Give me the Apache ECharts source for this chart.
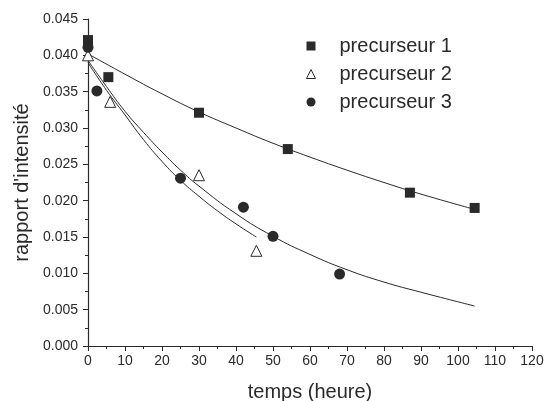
<!DOCTYPE html>
<html>
<head>
<meta charset="utf-8">
<script src="https://cdn.jsdelivr.net/npm/echarts@6/dist/echarts.min.js"></script>
<style>
  html, body { margin: 0; padding: 0; background: #fff; }
  #chart { width: 546px; height: 401px; }
</style>
</head>
<body>
<div id="chart"></div>
<script>
// measured points
const prec1 = [[0, 0.0421], [5.5, 0.0370], [30, 0.0321], [54, 0.0271], [87, 0.0211], [104.5, 0.0190]]
const prec2 = [[0, 0.0400], [6, 0.0336], [30, 0.0235], [45.5, 0.0131]]
const prec3 = [[0, 0.0411], [2.4, 0.0351], [25, 0.0231], [42, 0.0191], [50, 0.0151], [68, 0.0099]]

// fitted curves
const fit1 = [[0, 0.0402], [10, 0.0374], [20, 0.0347], [30, 0.0322], [40, 0.0300], [50, 0.0279],
  [60, 0.0260], [70, 0.0242], [80, 0.0225], [90, 0.0209], [104.5, 0.0188]]
const fit2 = [[0, 0.0390], [5, 0.0352], [10, 0.0318], [15, 0.0284], [20, 0.0254], [25, 0.0228],
  [30, 0.0206], [35, 0.0186], [40, 0.0168], [45.5, 0.0150]]
const fit3 = [[0, 0.0393], [5, 0.0357], [10, 0.0323], [15, 0.0294], [20, 0.0267], [25, 0.0242],
  [30, 0.0220], [40, 0.0182], [50, 0.0151], [60, 0.0126], [70, 0.0105], [80, 0.0088],
  [90, 0.0074], [104.5, 0.0055]]

const ink = '#2a2a2a'
const font = 'Liberation Sans'

const chart = echarts.init(document.getElementById('chart'))

function fitLine(name, data) {
  return {
    name,
    type: 'line',
    data,
    smooth: true,
    showSymbol: false,
    lineStyle: { color: ink, width: 1 },
    silent: true,
    z: 1
  }
}

chart.setOption({
  animation: false,
  backgroundColor: '#fff',
  textStyle: { fontFamily: font },
  grid: { left: 88, right: 14, top: 19, bottom: 55, outerBoundsMode: 'none', containLabel: false },
  legend: {
    orient: 'vertical',
    left: 301,
    top: 31,
    itemGap: 8,
    itemWidth: 9,
    itemHeight: 9,
    textStyle: { fontSize: 20, color: ink, fontFamily: font, padding: [0, 0, 0, 19] },
    data: [
      { name: 'precurseur 1', icon: 'rect', itemStyle: { color: ink } },
      { name: 'precurseur 2', icon: 'triangle', itemStyle: { color: '#fff', borderColor: ink, borderWidth: 1 } },
      { name: 'precurseur 3', icon: 'circle', itemStyle: { color: ink } }
    ]
  },
  xAxis: {
    type: 'value',
    min: 0,
    max: 120,
    interval: 10,
    name: 'temps (heure)',
    nameLocation: 'middle',
    nameGap: 36,
    nameTextStyle: { fontSize: 20, color: ink, fontFamily: font },
    axisLine: { lineStyle: { color: ink, width: 1.2 } },
    axisTick: { length: 5, lineStyle: { color: ink } },
    minorTick: { show: true, splitNumber: 2, length: 3, lineStyle: { color: ink } },
    axisLabel: { fontSize: 14, color: ink, margin: 8 },
    splitLine: { show: false }
  },
  yAxis: {
    type: 'value',
    min: 0,
    max: 0.045,
    interval: 0.005,
    name: "rapport d'intensité",
    nameLocation: 'middle',
    nameGap: 56,
    nameTextStyle: { fontSize: 20, color: ink, fontFamily: font },
    axisLine: { show: true, lineStyle: { color: ink, width: 1.2 } },
    axisTick: { show: true, length: 5, lineStyle: { color: ink } },
    minorTick: { show: true, splitNumber: 2, length: 3, lineStyle: { color: ink } },
    axisLabel: { fontSize: 14, color: ink, margin: 10, formatter: (v) => v.toFixed(3) },
    splitLine: { show: false }
  },
  series: [
    fitLine('fit 1', fit1),
    fitLine('fit 2', fit2),
    fitLine('fit 3', fit3),
    {
      name: 'precurseur 1',
      type: 'scatter',
      data: prec1,
      symbol: 'rect',
      symbolSize: 10,
      itemStyle: { color: ink, opacity: 1 },
      z: 3
    },
    {
      name: 'precurseur 2',
      type: 'scatter',
      data: prec2,
      symbol: 'triangle',
      symbolSize: 11,
      itemStyle: { color: '#fff', borderColor: ink, borderWidth: 1, opacity: 1 },
      z: 3
    },
    {
      name: 'precurseur 3',
      type: 'scatter',
      data: prec3,
      symbol: 'circle',
      symbolSize: 11,
      itemStyle: { color: ink, opacity: 1 },
      z: 3
    }
  ]
})
</script>
</body>
</html>
